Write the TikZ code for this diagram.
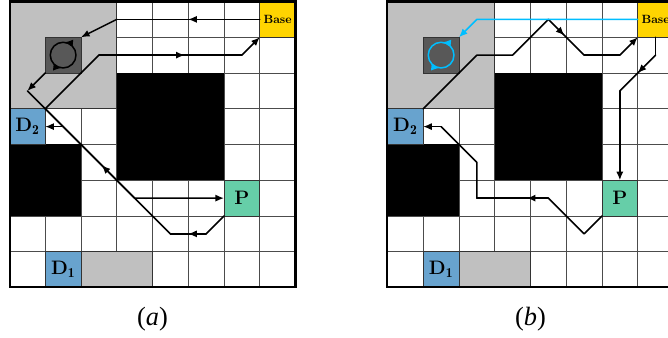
\documentclass[tikz,border=0pt]{standalone}
\usepackage{fontspec}
\newfontfamily\capfont{Liberation Serif}
\usetikzlibrary{arrows.meta,decorations.markings}
\definecolor{silverg}{RGB}{192,192,192}
\definecolor{stationg}{RGB}{88,88,88}
\definecolor{baseyel}{RGB}{255,212,0}
\definecolor{dblue}{RGB}{104,163,206}
\definecolor{pgreen}{RGB}{102,206,168}
\definecolor{skyb}{RGB}{0,190,255}
\tikzset{
  gridline/.style={draw=black!70, line width=0.6pt},
  cellborder/.style={draw=black!80, line width=0.7pt},
  cellnode/.style={cellborder, minimum size=1cm, inner sep=0pt, outer sep=0pt},
  bigtext/.style={font=\fontsize{15.5}{17}\selectfont\bfseries},
  route/.style={line width=1.2pt, line join=round, line cap=round},
  tip/.style={-{Latex[length=2.4mm,width=2mm]}},
  midarrow/.style={postaction={decorate}, decoration={markings, mark=at position #1 with {\arrow{Latex[length=2.4mm,width=2mm]}}}},
  midarrow/.default=0.55,
  twoarrows/.style={postaction={decorate}, decoration={markings,
     mark=at position 0.235 with {\arrow{Latex[length=2.4mm,width=2mm]}},
     mark=at position 0.735 with {\arrow{Latex[length=2.4mm,width=2mm]}}}},
  caplabel/.style={font=\capfont\fontsize{21}{24}\selectfont},
}
\newcommand\drawpanel[1]{%
  \fill[white] (0,0) rectangle (8,8);
  \foreach \k in {1,...,7}{\draw[gridline] (\k,0) -- (\k,8); \draw[gridline] (0,\k) -- (8,\k);}
  \filldraw[cellborder, fill=silverg] (0,0) rectangle (3,3);
  \fill[black] (3,2) rectangle (6,5);
  \fill[black] (0,4) rectangle (2,6);
  \filldraw[cellborder, fill=silverg] (2,7) rectangle (4,8);
  \node[cellnode, fill=stationg] (#1st) at (1.5,1.5) {};
  \node[cellnode, fill=baseyel, font=\fontsize{9.5}{10}\selectfont\bfseries] (#1base) at (7.5,0.5) {Base};
  \node[cellnode, fill=dblue, bigtext] (#1dtwo) at (0.5,3.5) {D$_{\mathbf{2}}$};
  \node[cellnode, fill=dblue, bigtext] (#1done) at (1.5,7.5) {D$_{\mathbf{1}}$};
  \node[cellnode, fill=pgreen, bigtext] (#1p) at (6.5,5.5) {P};
  \draw[line width=1.6pt] (0,0) rectangle (8,8);
}
\begin{document}
\begin{tikzpicture}[x=1cm, y=-1cm]
\useasboundingbox (-0.266,-0.042) rectangle (18.42,9.385);
% ---------------- panel (a)
\begin{scope}
  \drawpanel{A}
  \coordinate (Aw1) at (3,0.5);
  \coordinate (Aw2) at (0.5,2.5);
  \coordinate (Aw3) at (3.5,5.5);
  \coordinate (Aw4) at (5.5,6.5);
  \coordinate (Aw5) at (4.5,6.5);
  \coordinate (Aw6) at (1,3);
  \coordinate (Aw7) at (2.5,1.5);
  \coordinate (Aw8) at (6.5,1.5);
  \coordinate (Aw9) at (1.5,3.5);
  \draw[route, twoarrows] (Ast.center) ++(0.36,0) arc[start angle=0, end angle=-360, radius=0.36];
  \draw[route, midarrow=0.5] (Abase.west) -- (Aw1);
  \draw[route, tip] (Aw1) -- (Ast.north east);
  \draw[route, tip] (Ast.south west) -- (Aw2);
  \draw[route, tip] (Aw2) -- (Aw3) -- (Ap.west);
  \draw[route] (Ap.south west) -- (Aw4);
  \draw[route, midarrow=0.5] (Aw4) -- (Aw5);
  \draw[route, midarrow=0.55] (Aw5) -- (Aw6);
  \draw[route] (Aw6) -- (Aw7);
  \draw[route, midarrow=0.6] (Aw7) -- (Aw8);
  \draw[route, tip] (Aw8) -- (Abase.south west);
  \draw[route, tip] (Aw9) -- (Adtwo.east);
  \node[caplabel] (lbla) at (4,8.895) {(\textit{a})};
\end{scope}
% ---------------- panel (b)
\begin{scope}[shift={(10.573,0)}]
  \drawpanel{B}
  \coordinate (Bv1) at (2.5,0.5);
  \coordinate (Bw1) at (2.5,1.5);
  \coordinate (Bw2) at (3.5,1.5);
  \coordinate (Bw3) at (4.5,0.5);
  \coordinate (Bw4) at (5.5,1.5);
  \coordinate (Bw5) at (6.5,1.5);
  \coordinate (Bw6) at (7.5,1.5);
  \coordinate (Bw7) at (6.5,2.5);
  \coordinate (Bw8) at (5.5,6.5);
  \coordinate (Bw9) at (4.5,5.5);
  \coordinate (Bw10) at (2.5,5.5);
  \coordinate (Bw11) at (2.5,4.5);
  \coordinate (Bw12) at (1.5,3.5);
  \draw[route, skyb, twoarrows] (Bst.center) ++(0.36,0) arc[start angle=0, end angle=-360, radius=0.36];
  \draw[route] (Bdtwo.north east) -- (Bw1) -- (Bw2) -- (Bw3);
  \draw[route, midarrow=0.45] (Bw3) -- (Bw4);
  \draw[route] (Bw4) -- (Bw5);
  \draw[route, tip] (Bw5) -- (Bbase.south west);
  \draw[route] (Bbase.south) -- (Bw6);
  \draw[route, midarrow=0.5] (Bw6) -- (Bw7);
  \draw[route, tip] (Bw7) -- (Bp.north);
  \draw[route] (Bp.south west) -- (Bw8) -- (Bw9);
  \draw[route, midarrow=0.3] (Bw9) -- (Bw10);
  \draw[route] (Bw10) -- (Bw11) -- (Bw12);
  \draw[route, tip] (Bw12) -- (Bdtwo.east);
  \draw[route, draw=skyb, tip] (Bbase.west) -- (Bv1) -- (Bst.north east);
  \node[caplabel] (lblb) at (4,8.895) {(\textit{b})};
\end{scope}
\end{tikzpicture}
\end{document}
